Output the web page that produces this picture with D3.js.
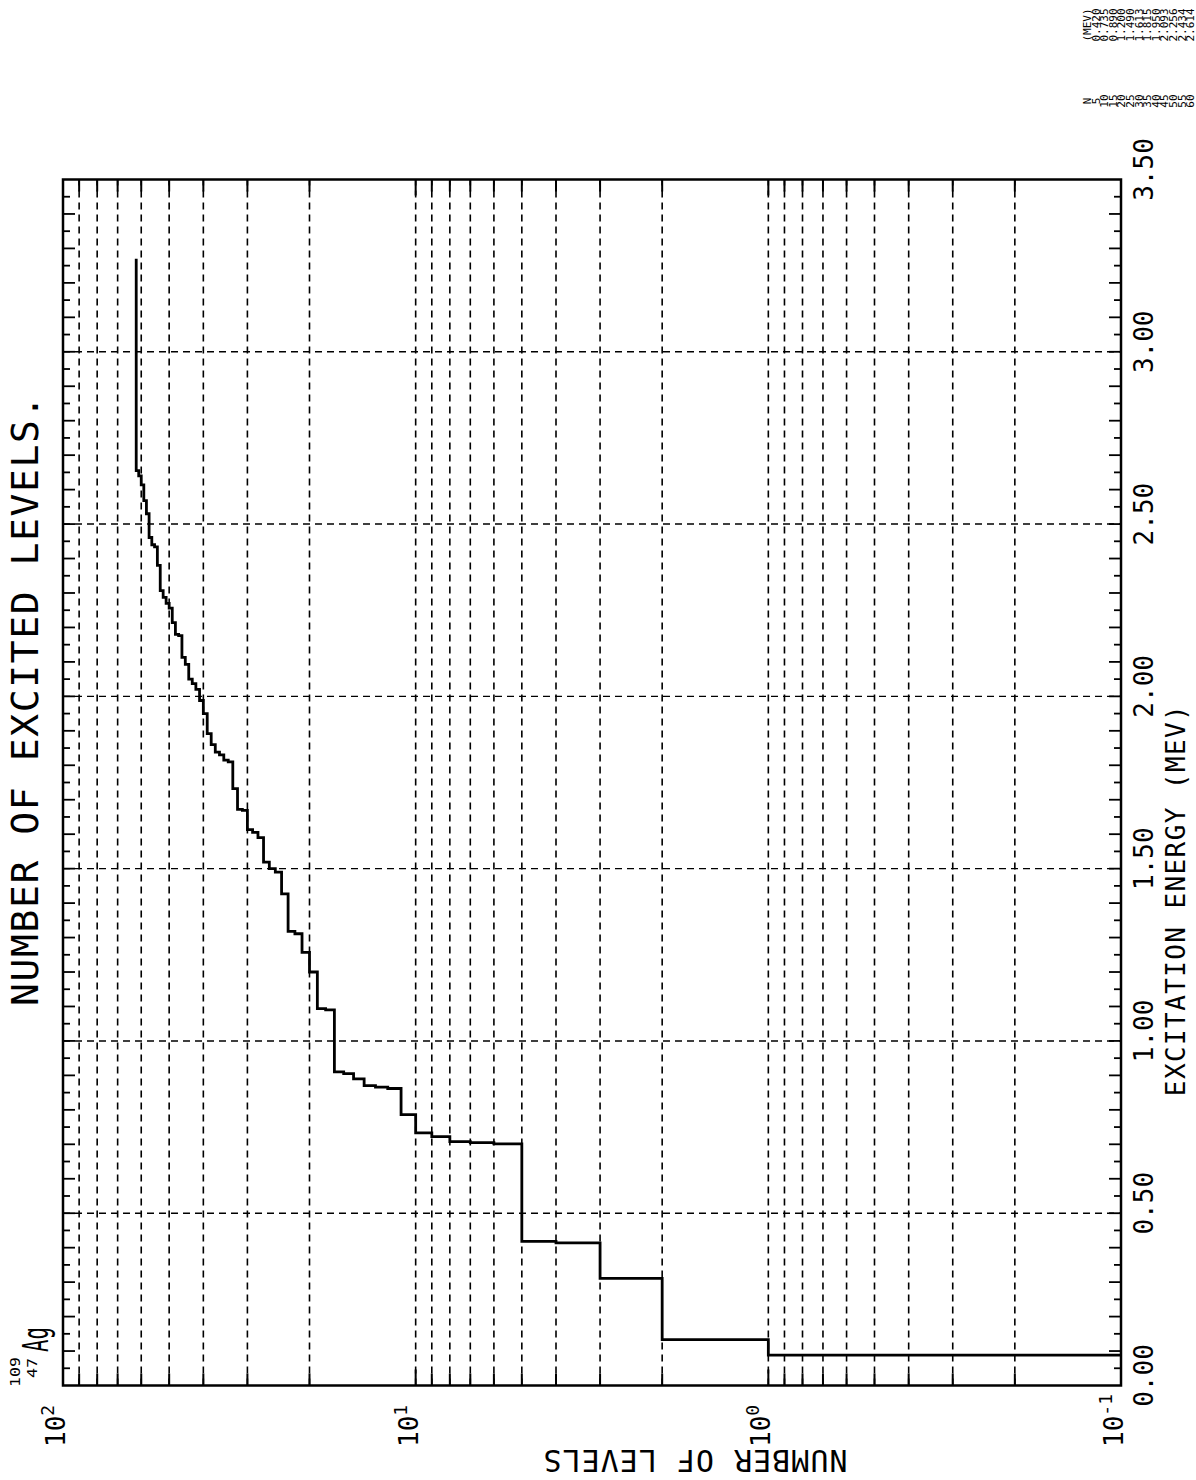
<!DOCTYPE html>
<html>
<head>
<meta charset="utf-8">
<script src="https://cdn.jsdelivr.net/npm/d3@7"></script>
<style>
  body { margin: 0; background: #fff; }
  svg { display: block; background: #fff; }
  text { font-family: "DejaVu Sans Mono", monospace; fill: #000; }
</style>
</head>
<body>
<svg id="chart" width="1196" height="1480"></svg>
<script>
// energies (MeV) at which the cumulative count steps up by one
const levelEnergy = [
    0.088, 0.133, 0.311, 0.414, 0.418,
    0.701, 0.705, 0.708, 0.722, 0.733,
    0.786, 0.862, 0.866, 0.870, 0.890,
    0.905, 0.910, 1.090, 1.094, 1.200,
    1.257, 1.311, 1.318, 1.427, 1.490,
    1.500, 1.519, 1.590, 1.605, 1.613,
    1.669, 1.672, 1.732, 1.810, 1.815,
    1.830, 1.838, 1.860, 1.892, 1.950,
    1.988, 2.020, 2.037, 2.050, 2.093,
    2.113, 2.176, 2.180, 2.214, 2.256,
    2.270, 2.287, 2.307, 2.380, 2.434,
    2.440, 2.461, 2.530, 2.568, 2.614,
    2.640, 2.655
];
const lastEnergy = 3.27;

const energyLabels = [0, 0.5, 1, 1.5, 2, 2.5, 3, 3.5];
const energyGrid = [0.5, 1, 1.5, 2, 2.5, 3];
const decades = [100, 10, 1, 0.1];
const decadeExp = ['2', '1', '0', '-1'];

const tableN = [5, 10, 15, 20, 25, 30, 35, 40, 45, 50, 55, 60];
const tableE = ['0.420', '0.735', '0.890', '1.200', '1.490', '1.613',
    '1.815', '1.950', '2.093', '2.256', '2.434', '2.614'];

const svg = d3.select('#chart');

const W = 1206;
const H = 1058;

const x = d3.scaleLinear().domain([0, 3.5]).range([0, W]);
const y = d3.scaleLog().domain([100, 0.1]).range([0, H]);

// the whole plot is drawn upright and then turned a quarter left, like the scan
const g = svg.append('g')
    .attr('transform', 'translate(63,1385.5) rotate(-90)');

const dash = '7,5';

// log grid
const logGrid = y.ticks().filter(v => v > 0.1 && v < 100);

g.selectAll('line.grid-n')
    .data(logGrid)
    .enter()
    .append('line')
    .attr('class', 'grid-n')
    .attr('x1', 0)
    .attr('x2', W)
    .attr('y1', d => y(d))
    .attr('y2', d => y(d))
    .attr('stroke', '#000')
    .attr('stroke-width', 1.6)
    .attr('stroke-dasharray', dash);

g.selectAll('line.grid-e')
    .data(energyGrid)
    .enter()
    .append('line')
    .attr('class', 'grid-e')
    .attr('x1', d => x(d))
    .attr('x2', d => x(d))
    .attr('y1', 0)
    .attr('y2', H)
    .attr('stroke', '#000')
    .attr('stroke-width', 1.4)
    .attr('stroke-dasharray', dash);

// small energy ticks on both long edges
const minorE = d3.range(1, 70).map(k => k * 0.05);
const tickLen = (d, i) => (i % 2 === 1 ? 12 : 7);

g.selectAll('line.etick-top')
    .data(minorE)
    .enter()
    .append('line')
    .attr('x1', d => x(d))
    .attr('x2', d => x(d))
    .attr('y1', 0)
    .attr('y2', tickLen)
    .attr('stroke', '#000')
    .attr('stroke-width', 1.8);

g.selectAll('line.etick-bottom')
    .data(minorE)
    .enter()
    .append('line')
    .attr('x1', d => x(d))
    .attr('x2', d => x(d))
    .attr('y1', H)
    .attr('y2', (d, i) => H - tickLen(d, i))
    .attr('stroke', '#000')
    .attr('stroke-width', 1.8);

// log ticks on both short edges
const nTickLen = d => (decades.includes(d) ? 16 : 12);

g.selectAll('line.ntick-left')
    .data(logGrid)
    .enter()
    .append('line')
    .attr('x1', 0)
    .attr('x2', nTickLen)
    .attr('y1', d => y(d))
    .attr('y2', d => y(d))
    .attr('stroke', '#000')
    .attr('stroke-width', 2);

g.selectAll('line.ntick-right')
    .data(logGrid)
    .enter()
    .append('line')
    .attr('x1', W)
    .attr('x2', d => W - nTickLen(d))
    .attr('y1', d => y(d))
    .attr('y2', d => y(d))
    .attr('stroke', '#000')
    .attr('stroke-width', 2);

// frame
g.append('rect')
    .attr('x', 0)
    .attr('y', 0)
    .attr('width', W)
    .attr('height', H)
    .attr('fill', 'none')
    .attr('stroke', '#000')
    .attr('stroke-width', 2.5);

// cumulative level count
const steps = [{ e: levelEnergy[0], n: 0.1 }]
    .concat(levelEnergy.map((e, i) => ({ e: e, n: i + 1 })))
    .concat([{ e: lastEnergy, n: levelEnergy.length }]);

const stepLine = d3.line()
    .x(d => x(d.e))
    .y(d => y(d.n))
    .curve(d3.curveStepAfter);

g.append('path')
    .datum(steps)
    .attr('d', stepLine)
    .attr('fill', 'none')
    .attr('stroke', '#000')
    .attr('stroke-width', 2.8)
    .attr('stroke-linejoin', 'miter');

// energy tick labels
g.selectAll('text.e-label')
    .data(energyLabels)
    .enter()
    .append('text')
    .attr('class', 'e-label')
    .attr('x', d => x(d) + 10)
    .attr('y', H + 32)
    .attr('text-anchor', 'middle')
    .attr('font-size', 26)
    .text(d3.format('.2f'));

// decade labels
const decLabels = g.selectAll('text.n-label')
    .data(decades)
    .enter()
    .append('text')
    .attr('class', 'n-label')
    .attr('x', -61.5)
    .attr('y', d => y(d) + 2)
    .attr('text-anchor', 'start')
    .attr('font-size', 26);

decLabels.append('tspan').text('10');
decLabels.append('tspan')
    .attr('dy', -11)
    .attr('font-size', 18)
    .text((d, i) => decadeExp[i]);

// titles
g.append('text')
    .attr('x', 685.5)
    .attr('y', -25)
    .attr('text-anchor', 'middle')
    .attr('font-size', 38)
    .attr('letter-spacing', 1.6)
    .text('NUMBER OF EXCITED LEVELS.');

g.append('text')
    .attr('x', 485.5)
    .attr('y', 1122)
    .attr('text-anchor', 'middle')
    .attr('font-size', 26)
    .attr('letter-spacing', 1.4)
    .text('EXCITATION ENERGY (MEV)');

g.append('text')
    .attr('transform', 'translate(-64.5,632) rotate(-90)')
    .attr('text-anchor', 'middle')
    .attr('font-size', 30)
    .attr('letter-spacing', 1)
    .text('NUMBER OF LEVELS');

// nuclide
g.append('text')
    .attr('x', -1.5)
    .attr('y', -43)
    .attr('font-size', 14)
    .attr('textLength', 30)
    .attr('lengthAdjust', 'spacingAndGlyphs')
    .text('109');

g.append('text')
    .attr('x', 7.5)
    .attr('y', -26)
    .attr('font-size', 14)
    .attr('textLength', 20)
    .attr('lengthAdjust', 'spacingAndGlyphs')
    .text('47');

g.append('text')
    .attr('x', 33.5)
    .attr('y', -15)
    .attr('font-size', 36)
    .attr('textLength', 25)
    .attr('lengthAdjust', 'spacingAndGlyphs')
    .text('Ag');

// small N / energy table
const rows = [{ n: 'N', e: '(MEV)' }]
    .concat(tableN.map((n, i) => ({ n: String(n), e: tableE[i] })));

const rowG = g.selectAll('g.row')
    .data(rows)
    .enter()
    .append('g')
    .attr('class', 'row')
    .attr('transform', (d, i) => `translate(0,${1028 + i * 8.6})`);

rowG.append('text')
    .attr('x', 1284.5)
    .attr('text-anchor', 'middle')
    .attr('font-size', 11)
    .text(d => d.n);

rowG.append('text')
    .attr('x', 1360.5)
    .attr('text-anchor', 'middle')
    .attr('font-size', 11)
    .text(d => d.e);
</script>
</body>
</html>
